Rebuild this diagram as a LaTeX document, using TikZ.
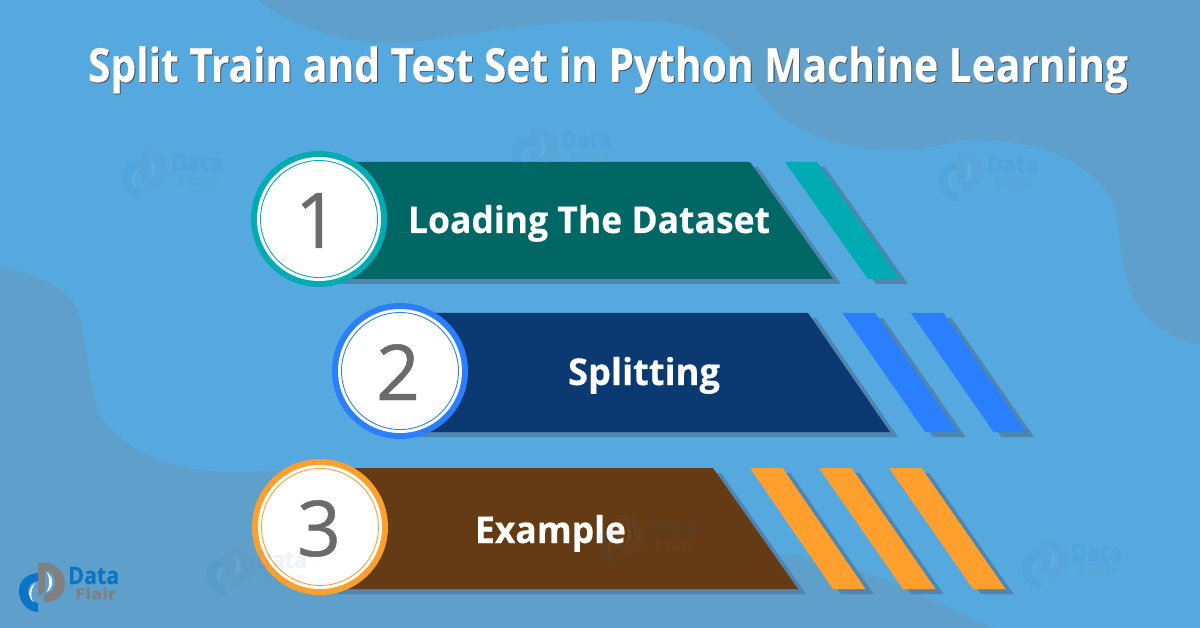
\documentclass[tikz,border=0pt]{standalone}
\usepackage{fontspec}
\setmainfont{Open Sans}
\newfontfamily\boldfont{Open Sans Bold}[BoldFont=*,FakeBold=0.35]
\newfontfamily\digitfont{Open Sans}[FakeBold=0.6]
\usetikzlibrary{calc}
\definecolor{bgblue}{HTML}{55A9DE}
\definecolor{blobblue}{HTML}{5F9FCC}
\definecolor{shade}{HTML}{4E86B0}
\definecolor{tealdark}{HTML}{016764}
\definecolor{teallight}{HTML}{00ABB3}
\definecolor{navy}{HTML}{0B3A73}
\definecolor{brightblue}{HTML}{2A7FFF}
\definecolor{brown}{HTML}{643B14}
\definecolor{amber}{HTML}{FF9F2D}
\definecolor{digitgray}{HTML}{6B6B6B}
\definecolor{logoblue}{HTML}{0B74C4}
\definecolor{logogray}{HTML}{808080}
\tikzset{
  blob/.style={fill=blobblue,draw=none},
  label text/.style={anchor=base west,inner sep=0pt,outer sep=0pt,text=white},
  digit text/.style={anchor=base,inner sep=0pt,outer sep=0pt,text=digitgray},
  shadowshape/.style={fill=shade,draw=none,shift={(8,5)}},
}
\newcommand{\fitw}[3]{\resizebox{#1pt}{\height}{\boldfont\fontsize{#2}{#2}\selectfont #3}}
% banner: colour, top y, bottom y, left x, right-top x, right-bottom x
\newcommand{\banner}[6]{%
  \fill[shadowshape] (#4,#2) -- (#5,#2) -- (#6,#3) -- (#4,#3) -- cycle;
  \fill[#1] (#4,#2) -- (#5,#2) -- (#6,#3) -- (#4,#3) -- cycle;}
% stripe: colour, top y, bottom y, top-left x, width, bottom-left x
\newcommand{\stripe}[6]{%
  \fill[shadowshape] (#4,#2) -- ++(#5,0) -- (#6+#5,#3) -- (#6,#3) -- cycle;
  \fill[#1] (#4,#2) -- ++(#5,0) -- (#6+#5,#3) -- (#6,#3) -- cycle;}
% badge: name, centre, ring colour
\newcommand{\badge}[3]{%
  \node[circle,fill=#3,minimum size=136pt,inner sep=0pt] (#1o) at (#2) {};
  \node[circle,fill=white,minimum size=124pt,inner sep=0pt] (#1w) at (#2) {};
  \node[circle,draw=#3,line width=.9pt,minimum size=117pt,inner sep=0pt] (#1r) at (#2) {};}
% logo: name, dx, dy, opacity
\newcommand{\dflogo}[4]{%
  \begin{scope}[shift={(#2,#3)},opacity=#4]
    \fill[logogray] (38,563) .. controls (56,561) and (65,572) .. (65,583)
      .. controls (65,595) and (56,603) .. (44,602) -- (44,594)
      .. controls (51,594) and (55,589) .. (55,582)
      .. controls (55,575) and (50,570) .. (45,571) -- (45,591) -- (38,597) -- cycle;
    \fill[logoblue] (38,573) .. controls (26,574) and (19,581) .. (19,591)
      .. controls (19,603) and (28,612) .. (38,612) -- (38,603)
      .. controls (32,603) and (28,597) .. (28,591)
      .. controls (28,585) and (33,581) .. (38,581) -- cycle;
    \fill[white] (35,583) .. controls (29,587) and (27,596) .. (33,602)
      .. controls (30,595) and (31,589) .. (35,583) -- cycle;
    \fill[white] (47,572) .. controls (54,578) and (54,587) .. (47,592)
      .. controls (50,586) and (50,578) .. (47,572) -- cycle;
    \node[anchor=base west,inner sep=0,text=logoblue] (#1d) at (68,584) {\fitw{51}{24}{Data}};
    \node[anchor=base west,inner sep=0,text=logogray] (#1f) at (75,599) {\fitw{41}{15}{Flair}};
  \end{scope}}
\begin{document}
\begin{tikzpicture}[x=1pt,y=-1pt]
\useasboundingbox (0,0) rectangle (1200,628);
\fill[bgblue] (0,0) rectangle (1200,628);
% background blobs
\fill[blob] (258,0) .. controls (290,25) and (340,44) .. (393,43)
  .. controls (440,42) and (540,18) .. (632,20)
  .. controls (680,21) and (715,30) .. (735,55)
  .. controls (755,85) and (765,110) .. (800,128)
  .. controls (830,145) and (865,150) .. (901,150)
  .. controls (930,150) and (950,140) .. (975,140)
  .. controls (1010,140) and (1040,145) .. (1065,158)
  .. controls (1095,172) and (1113,195) .. (1116,215)
  .. controls (1120,240) and (1122,265) .. (1128,283)
  .. controls (1135,310) and (1160,338) .. (1200,345)
  -- (1200,0) -- cycle;
\fill[blob] (0,267) .. controls (30,272) and (65,285) .. (78,310)
  .. controls (85,335) and (90,385) .. (97,407)
  .. controls (110,445) and (170,472) .. (225,472)
  .. controls (300,472) and (400,465) .. (520,470)
  .. controls (620,480) and (700,550) .. (783,555)
  .. controls (840,556) and (900,585) .. (993,628)
  -- (0,628) -- cycle;
% title
\node[label text,text=black!70] (titleshadow) at (88.9,82.9) {\fitw{1040}{47}{Split Train and Test Set in Python Machine Learning}};
\node[label text] (title) at (88,82) {\fitw{1040}{47}{Split Train and Test Set in Python Machine Learning}};
% row 1
\banner{tealdark}{162}{279}{330}{750}{833}
\stripe{teallight}{162}{279}{785}{32}{868}
\badge{one}{319,219}{teallight}
\node[digit text] (d1) at (317,248) {\digitfont\fontsize{77}{77}\selectfont 1};
\node[label text] (l1) at (408,233) {\fitw{362}{37}{Loading The Dataset}};
% row 2
\banner{navy}{313}{432}{410}{808}{890}
\stripe{brightblue}{313}{432}{842.5}{32.5}{925}
\stripe{brightblue}{313}{432}{911}{32.5}{993.5}
\badge{two}{400,371}{brightblue}
\node[digit text] (d2) at (398,400) {\digitfont\fontsize{77}{77}\selectfont 2};
\node[label text] (l2) at (568,385) {\fitw{152}{37}{Splitting}};
% row 3
\banner{brown}{468}{589}{330}{713}{798}
\stripe{amber}{468}{589}{750}{32.5}{833}
\stripe{amber}{468}{589}{819}{32.5}{903}
\stripe{amber}{468}{589}{889}{32.5}{973}
\badge{three}{320,527}{amber}
\node[digit text] (d3) at (319,556) {\digitfont\fontsize{77}{77}\selectfont 3};
\node[label text] (l3) at (475,543) {\fitw{151}{37}{Example}};
% watermarks
\dflogo{wa}{103}{-413}{.07}
\dflogo{wb}{493}{-436}{.07}
\dflogo{wc}{919}{-411}{.07}
\dflogo{wd}{188}{-16}{.07}
\dflogo{we}{579}{-48}{.07}
\dflogo{wf}{1003}{-23}{.07}
% logo
\dflogo{main}{0}{0}{1}
\end{tikzpicture}
\end{document}
